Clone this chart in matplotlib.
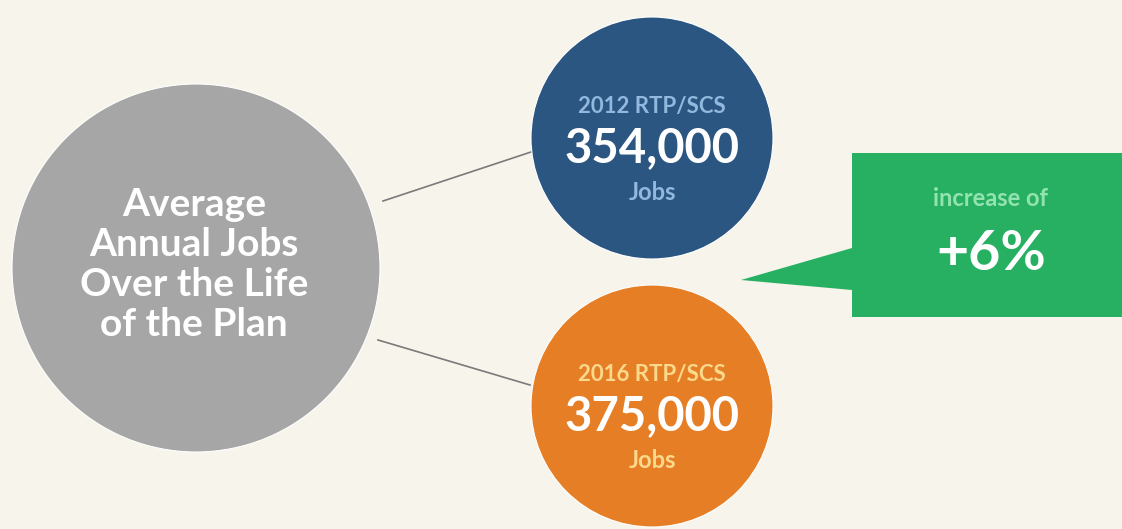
import matplotlib
matplotlib.use("Agg")
from matplotlib import pyplot as plt
from matplotlib.patches import Circle, Polygon

# plan figures
plan_names = ["2012 RTP/SCS", "2016 RTP/SCS"]
plan_jobs = [354000, 375000]
unit_label = "Jobs"
hub_label = ["Average", "Annual Jobs", "Over the Life", "of the Plan"]
change_label = "increase of"

BG = "#f7f4eb"
GREY = "#a6a6a6"
PLAN_COLORS = ["#2a5681", "#e67e25"]
SUB_COLORS = ["#93b8de", "#fbd98c"]
GREEN = "#27b062"
FONT = "Lato"
WEIGHT = "bold"

# Layout in pixel units (figure is 1122 x 529)
W, H = 1122, 529
hub_center, hub_r = (196, 268), 184
plan_centers = [(652, 138), (652, 406)]
plan_r = 121

fig = plt.figure(figsize=(W / 100, H / 100), dpi=100)
fig.patch.set_facecolor(BG)
ax = fig.add_axes([0, 0, 1, 1])
ax.set_xlim(0, W)
ax.set_ylim(H, 0)
ax.set_aspect("equal")
ax.axis("off")

# connector lines from the hub to each plan bubble
ax.plot([383, 531], [201, 152], color="#7a7a7a", lw=1.2, zorder=1)
ax.plot([378, 530], [340, 385], color="#7a7a7a", lw=1.2, zorder=1)

ax.add_patch(Circle(hub_center, hub_r, facecolor=GREY, edgecolor="white", lw=0.8, zorder=2))
for i, line in enumerate(hub_label):
    ax.text(hub_center[0] - 2, 204 + i * 40, line, ha="center", va="center",
            color="white", fontsize=28, fontweight=WEIGHT, family=FONT, zorder=3)

for (cx, cy), name, jobs, col, sub in zip(plan_centers, plan_names, plan_jobs, PLAN_COLORS, SUB_COLORS):
    ax.add_patch(Circle((cx, cy), plan_r, facecolor=col, edgecolor="white", lw=0.8, zorder=2))
    ax.text(cx, cy - 31, name, ha="center", va="center", color=sub,
            fontsize=16, fontweight=WEIGHT, family=FONT, zorder=3)
    ax.text(cx, cy + 10, f"{jobs:,}", ha="center", va="center", color="white",
            fontsize=34, fontweight=WEIGHT, family=FONT, zorder=3)
    ax.text(cx, cy + 55, unit_label, ha="center", va="center", color=sub,
            fontsize=17, fontweight=WEIGHT, family=FONT, zorder=3)

# green callout with pointer
pct = round((plan_jobs[1] - plan_jobs[0]) / plan_jobs[0] * 100)
callout = [(852, 153), (W, 153), (W, 317), (852, 317), (852, 290), (741, 280), (852, 248)]
ax.add_patch(Polygon(callout, closed=True, facecolor=GREEN, edgecolor="none", zorder=2))
ax.text(991, 198, change_label, ha="center", va="center", color="#93e3b0",
        fontsize=17, fontweight=WEIGHT, family=FONT, zorder=3)
ax.text(991, 254, f"+{pct}%", ha="center", va="center", color="white",
        fontsize=40, fontweight=WEIGHT, family=FONT, zorder=3)

fig.savefig("out.png", dpi=100, facecolor=BG)
